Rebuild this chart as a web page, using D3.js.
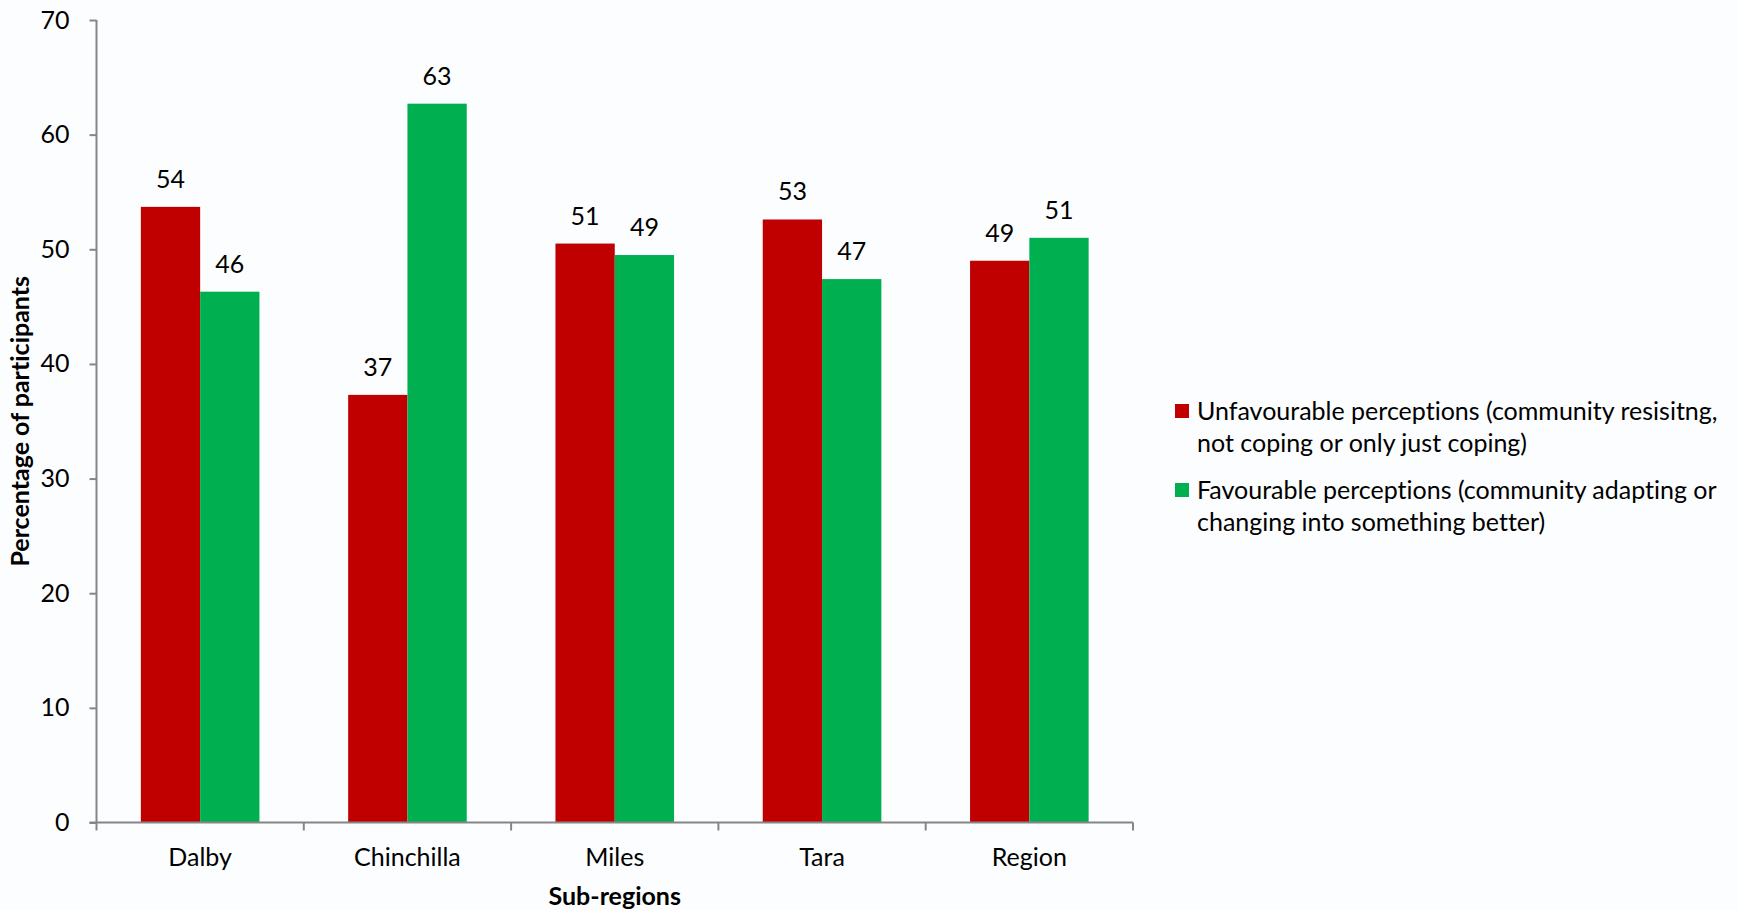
<!DOCTYPE html>
<html><head><meta charset="utf-8">
<script src="https://cdn.jsdelivr.net/npm/d3@7"></script>
<style>body{margin:0;background:#fbfdfe;} svg{display:block;} text{font-family:Lato,"Open Sans",sans-serif;fill:#000;font-variant-ligatures:none;}</style>
</head><body>
<svg id="c" width="1738" height="910"></svg>
<script>
const categories = ["Dalby","Chinchilla","Miles","Tara","Region"];
const seriesNames = ["Unfavourable perceptions (community resisitng, not coping or only just coping)",
                     "Favourable perceptions (community adapting or changing into something better)"];
const legendLines = [["Unfavourable perceptions (community resisitng,","not coping or only just coping)"],
                     ["Favourable perceptions (community adapting or","changing into something better)"]];
const unfavourable = [53.7, 37.3, 50.5, 52.6, 49.0];
const favourable   = [46.3, 62.7, 49.5, 47.4, 51.0];
const labelsUnfav = [54, 37, 51, 53, 49];
const labelsFav   = [46, 63, 49, 47, 51];
const yTicks = [0,10,20,30,40,50,60,70];
const colors = ["#C00000","#00B050"];

(function(){
const svg = d3.select("#c");
const FS = "25px";
const pLeft = 96.5, pRight = 1133, pTop = 20, pBottom = 822.5;
const x0 = d3.scaleBand().domain(categories).range([pLeft,pRight]).paddingInner(0).paddingOuter(0);
const x1 = d3.scaleBand().domain([0,1]).range([0,x0.bandwidth()]).paddingInner(0).paddingOuter(0.748);
const y = d3.scaleLinear().domain([0,70]).range([pBottom,pTop]);

const data = categories.map((c,i)=>({c, vals:[unfavourable[i],favourable[i]], labs:[labelsUnfav[i],labelsFav[i]]}));

const g = svg.selectAll("g.cat").data(data).enter().append("g").attr("transform",d=>`translate(${x0(d.c)},0)`);
g.selectAll("rect").data(d=>d.vals.map((v,j)=>({v,j}))).enter().append("rect")
  .attr("x",d=>x1(d.j)).attr("width",x1.bandwidth())
  .attr("y",d=>y(d.v)).attr("height",d=>pBottom-y(d.v)).attr("fill",d=>colors[d.j]);
g.selectAll("text.lab").data(d=>d.vals.map((v,j)=>({v,j,l:d.labs[j]}))).enter().append("text")
  .attr("class","lab").attr("x",d=>x1(d.j)+x1.bandwidth()/2).attr("y",d=>y(d.v)-19)
  .attr("text-anchor","middle").style("font-size",FS).text(d=>d.l);

// y axis
const yAxis = d3.axisLeft(y).tickValues(yTicks).tickSize(7).tickPadding(20);
const ya = svg.append("g").attr("transform",`translate(${pLeft},0)`).call(yAxis);
ya.select(".domain").attr("stroke","#868686").attr("stroke-width",2).attr("d",`M0,${pTop}V${pBottom}`);
ya.selectAll(".tick line").attr("stroke","#868686").attr("stroke-width",2);
ya.selectAll(".tick text").style("font-size",FS).attr("fill","#000").style("font-family","Lato");

// x axis
const xa = svg.append("g").attr("transform",`translate(0,${pBottom})`);
xa.append("line").attr("x1",pLeft-7).attr("x2",pRight).attr("y1",0).attr("y2",0).attr("stroke","#868686").attr("stroke-width",2);
const bounds = categories.map(c=>x0(c)).concat([pRight]);
xa.selectAll("line.t").data(bounds).enter().append("line").attr("class","t")
  .attr("x1",d=>d).attr("x2",d=>d).attr("y1",0).attr("y2",8).attr("stroke","#868686").attr("stroke-width",2);
xa.selectAll("text").data(categories).enter().append("text")
  .attr("x",d=>x0(d)+x0.bandwidth()/2).attr("y",43).attr("text-anchor","middle").style("font-size",FS).text(d=>d);

svg.append("text").attr("x",(pLeft+pRight)/2).attr("y",905).attr("text-anchor","middle")
  .style("font-size",FS).style("font-weight","bold").text("Sub-regions");
svg.append("text").attr("transform",`translate(29,${(pTop+pBottom)/2}) rotate(-90)`).attr("text-anchor","middle")
  .style("font-size",FS).style("font-weight","bold").text("Percentage of participants");

// legend
const lg = svg.append("g");
const ly = [411, 490];
seriesNames.forEach((s,i)=>{
  lg.append("rect").attr("x",1175).attr("y",ly[i]-7).attr("width",14).attr("height",14).attr("fill",colors[i]);
  const t = lg.append("text").attr("x",1197).attr("y",ly[i]+9).style("font-size",FS);
  legendLines[i].forEach((ln,k)=>t.append("tspan").attr("x",1197).attr("dy",k?32:0).text(ln));
});
})();
</script>
</body></html>
